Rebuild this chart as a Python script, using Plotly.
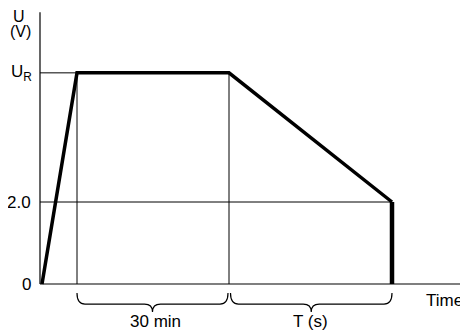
import plotly.graph_objects as go

# Data (time in arbitrary units, voltage in V)
t = [0.2, 3.7, 18.9, 35.2, 35.2]
u = [0.0, 5.15, 5.15, 2.0, 0.0]
UR = 5.15
U_LOW = 2.0
t_ramp_end = 3.7
t_hold_end = 18.9
t_end = 35.2
x_axis_end = 42.8
y_axis_top = 6.63

FONT = "Liberation Sans, Arial, Helvetica, sans-serif"

fig = go.Figure()

def seg(xs, ys, w):
    fig.add_trace(go.Scatter(x=xs, y=ys, mode="lines",
                             line=dict(color="black", width=w),
                             hoverinfo="skip", showlegend=False))

# axes
seg([0, 0], [0, y_axis_top], 1.2)
seg([0, x_axis_end], [0, 0], 1.2)
# guide lines
seg([0, t_ramp_end], [UR, UR], 1)
seg([t_ramp_end, t_ramp_end], [0, UR], 1)
seg([t_hold_end, t_hold_end], [0, UR], 1)
seg([0, t_end], [U_LOW, U_LOW], 1)
# main curve
fig.add_trace(go.Scatter(x=t[:4], y=u[:4], mode="lines",
                         line=dict(color="black", width=3.5),
                         hoverinfo="skip", showlegend=False))
seg(t[3:], u[3:], 4.5)

# braces
def brace(x1, x2, ytop=-0.22, ybot=-0.49, ytip=-0.68, r=0.8):
    xm = (x1 + x2) / 2
    p = (f"M {x1},{ytop} Q {x1},{ybot} {x1+r},{ybot} L {xm-r},{ybot} "
         f"Q {xm},{ybot} {xm},{ytip} Q {xm},{ybot} {xm+r},{ybot} "
         f"L {x2-r},{ybot} Q {x2},{ybot} {x2},{ytop}")
    fig.add_shape(type="path", path=p, xref="x", yref="y",
                  line=dict(color="black", width=1.2))

brace(t_ramp_end, t_hold_end - 0.1)
brace(t_hold_end + 0.15, t_end)

def txt(x, y, s, xanchor="center", size=18):
    fig.add_annotation(x=x, y=y, text=s, showarrow=False, xanchor=xanchor,
                       yanchor="middle", font=dict(family=FONT, size=size, color="black"))

txt(-0.6, UR, "U<sub>R</sub>", xanchor="right", size=17)
txt(-0.7, U_LOW, "2.0", xanchor="right", size=17)
txt(-0.7, 0, "0", xanchor="right", size=17)
txt(-2.1, 6.52, "U", size=16)
txt(-2.0, 6.17, "(V)", size=16)
txt((t_ramp_end + t_hold_end) / 2 + 0.2, -0.92, "30 min", size=17)
txt((t_hold_end + t_end) / 2, -0.92, "T (s)", size=17)
txt(42.5, -0.40, "Time", xanchor="right", size=17)

# figure sits at an 8px page offset; ranges map page pixels to data
fig.update_layout(
    width=460, height=327,
    margin=dict(l=0, r=0, t=0, b=0),
    paper_bgcolor="white", plot_bgcolor="white",
    xaxis=dict(range=[-3.2, 42.8], visible=False),
    yaxis=dict(range=[-51/41, 276/41], visible=False),
    showlegend=False,
)
fig.write_html("out.html")
